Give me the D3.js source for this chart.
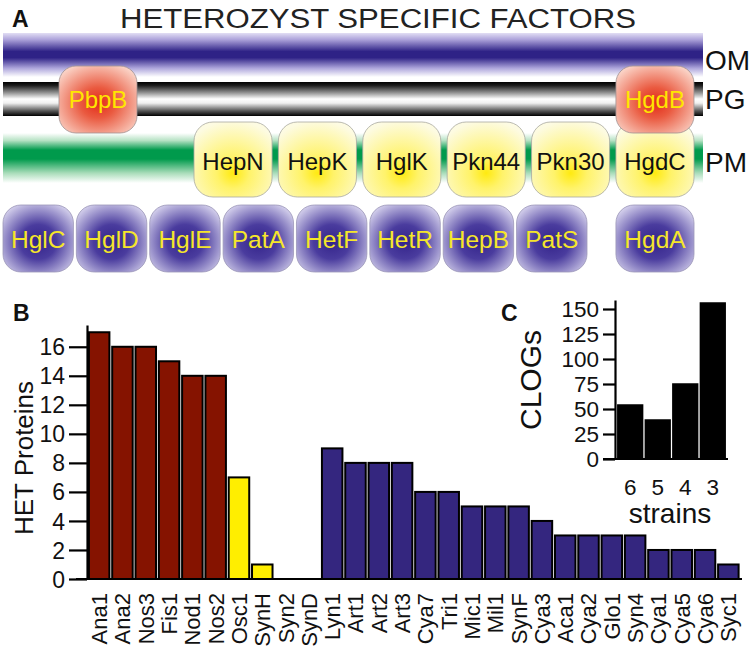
<!DOCTYPE html>
<html><head><meta charset="utf-8">
<script src="https://cdn.jsdelivr.net/npm/d3@7/dist/d3.min.js"></script>
<style>
html,body{margin:0;padding:0;background:#fff;}
svg{display:block;font-family:"Liberation Sans",Arial,Helvetica,sans-serif;}
</style></head>
<body>
<svg id="chart" width="756" height="652"></svg>
<script>
// ---------- DATA ----------
const titleText = "HETEROZYST SPECIFIC FACTORS";
const layerLabels = ["OM", "PG", "PM"];
const pgProteins = ["PbpB", "HgdB"];
const pmProteins = ["HepN", "HepK", "HglK", "Pkn44", "Pkn30", "HgdC"];
const cytoProteins = ["HglC", "HglD", "HglE", "PatA", "HetF", "HetR", "HepB", "PatS"];
const cytoRightProteins = ["HgdA"];

const strains = ["Ana1","Ana2","Nos3","Fis1","Nod1","Nos2","Osc1","SynH","Syn2","SynD",
  "Lyn1","Art1","Art2","Art3","Cya7","Tri1","Mic1","Mil1","SynF","Cya3","Aca1","Cya2",
  "Glo1","Syn4","Cya1","Cya5","Cya6","Syc1"];
const hetProteins = [17,16,16,15,14,14,7,1,0,0,9,8,8,8,6,6,5,5,5,4,3,3,3,3,2,2,2,1];
const strainGroup = ["h","h","h","h","h","h","y","y","y","y",
  "p","p","p","p","p","p","p","p","p","p","p","p","p","p","p","p","p","p"];
const hetTicks = [0,2,4,6,8,10,12,14,16];

const strainCounts = ["6","5","4","3"];
const clogs = [54, 39, 75, 156];
const clogTicks = [0,25,50,75,100,125,150];

// ---------- SETUP ----------
const svg = d3.select("#chart");
const defs = svg.append("defs");
const FONT = "Liberation Sans, Arial, sans-serif";

function linGrad(id, stops) {
  const g = defs.append("linearGradient").attr("id", id)
    .attr("x1", 0).attr("y1", 0).attr("x2", 0).attr("y2", 1);
  stops.forEach(s => g.append("stop").attr("offset", s[0]).attr("stop-color", s[1]));
}
function radGrad(id, cx, cy, r, stops) {
  const g = defs.append("radialGradient").attr("id", id)
    .attr("cx", cx).attr("cy", cy).attr("r", r);
  stops.forEach(s => g.append("stop").attr("offset", s[0]).attr("stop-color", s[1]));
}
linGrad("gOM", [[0,"#e2def4"],[0.15,"#aca2da"],[0.42,"#2e2286"],[0.56,"#2e2286"],[0.8,"#aea6dc"],[1,"#ffffff"]]);
linGrad("gPG", [[0,"#000"],[0.1,"#1c1c1c"],[0.3,"#8a8a8a"],[0.5,"#ffffff"],[0.62,"#f0f0f0"],[0.85,"#555"],[1,"#000"]]);
linGrad("gPM", [[0,"#ffffff"],[0.15,"#b6e2c4"],[0.34,"#009a4c"],[0.52,"#009a4c"],[0.8,"#a8dcb9"],[1,"#ffffff"]]);
radGrad("gRed", "50%", "55%", "65%", [[0,"#e22a18"],[0.35,"#ea5a40"],[1,"#fbd8cc"]]);
radGrad("gYel", "50%", "68%", "70%", [[0,"#ffea10"],[0.3,"#fff36a"],[1,"#fdfbe2"]]);
radGrad("gPur", "50%", "55%", "68%", [[0,"#33238a"],[0.38,"#4a3c9e"],[1,"#e4e1f5"]]);

// ---------- PANEL A ----------
svg.append("text").attr("x", 12).attr("y", 27).attr("font-family", FONT)
  .attr("font-weight", "bold").attr("font-size", 23).attr("fill", "#111").text("A");
svg.append("text").attr("x", 120).attr("y", 28).attr("font-size", 27).attr("fill", "#222")
  .attr("textLength", 516).attr("lengthAdjust", "spacingAndGlyphs").text(titleText);

// layer bands
const bandTop = d3.scaleOrdinal().domain(layerLabels).range([33, 82, 133]);
const bandH = d3.scaleOrdinal().domain(layerLabels).range([44, 34, 50]);
const bandFill = d3.scaleOrdinal().domain(layerLabels).range(["url(#gOM)", "url(#gPG)", "url(#gPM)"]);
svg.selectAll("rect.band").data(layerLabels).join("rect").attr("class", "band")
  .attr("x", 3).attr("width", 700)
  .attr("y", d => bandTop(d)).attr("height", d => bandH(d))
  .attr("fill", d => bandFill(d));
const labelY = d3.scaleOrdinal().domain(layerLabels).range([70, 109, 172]);
svg.selectAll("text.layer").data(layerLabels).join("text").attr("class", "layer")
  .attr("x", 705).attr("y", d => labelY(d)).attr("font-size", 28).attr("fill", "#111").text(d => d);

// PM proteins (yellow)
const pmX = d3.scaleBand().domain(pmProteins).range([194, 694]).paddingInner(0.075).paddingOuter(0);
const pmG = svg.selectAll("g.pm").data(pmProteins).join("g").attr("class", "pm")
  .attr("transform", d => `translate(${pmX(d)},122)`);
pmG.append("rect").attr("width", pmX.bandwidth()).attr("height", 75).attr("rx", 19)
  .attr("fill", "url(#gYel)").attr("stroke", "#a8a8a0").attr("stroke-width", 0.8);
pmG.append("text").attr("x", pmX.bandwidth() / 2).attr("y", 48).attr("text-anchor", "middle")
  .attr("font-size", 24).attr("fill", "#111").text(d => d);

// PG proteins (red)
const pgX = d3.scaleOrdinal().domain(pgProteins).range([59, pmX("HgdC")]);
const pgG = svg.selectAll("g.pg").data(pgProteins).join("g").attr("class", "pg")
  .attr("transform", d => `translate(${pgX(d)},66)`);
pgG.append("rect").attr("width", 78).attr("height", 67).attr("rx", 17)
  .attr("fill", "url(#gRed)").attr("stroke", "#a09090").attr("stroke-width", 0.8);
pgG.append("text").attr("x", 39).attr("y", 42).attr("text-anchor", "middle")
  .attr("font-size", 24).attr("fill", "#ffe600").text(d => d);

// cytoplasmic proteins (purple)
const cyX = d3.scaleBand().domain(cytoProteins).range([3, 587]).paddingInner(0.04).paddingOuter(0);
const cyAll = cytoProteins.concat(cytoRightProteins);
const cyPos = d => cytoRightProteins.includes(d) ? pmX("HgdC") : cyX(d);
const cyW = d => cytoRightProteins.includes(d) ? pmX.bandwidth() : cyX.bandwidth();
const cyG = svg.selectAll("g.cy").data(cyAll).join("g").attr("class", "cy")
  .attr("transform", d => `translate(${cyPos(d)},205)`);
cyG.append("rect").attr("width", d => cyW(d)).attr("height", 67).attr("rx", 18)
  .attr("fill", "url(#gPur)").attr("stroke", "#9a96b8").attr("stroke-width", 0.8);
cyG.append("text").attr("x", d => cyW(d) / 2).attr("y", 43).attr("text-anchor", "middle")
  .attr("font-size", 24.5).attr("fill", "#f5e62a").text(d => d);

// ---------- PANEL B ----------
svg.append("text").attr("x", 13).attr("y", 321).attr("font-family", FONT)
  .attr("font-weight", "bold").attr("font-size", 23).attr("fill", "#111").text("B");

const x = d3.scaleBand().domain(strains).range([87.5, 740]).paddingInner(0.12).paddingOuter(0.06);
const y = d3.scaleLinear().domain([0, 17.5]).range([579, 325]);
const colorB = d3.scaleOrdinal().domain(["h", "y", "p"]).range(["#851300", "#ffee00", "#34267f"]);

svg.selectAll("rect.bar").data(strains).join("rect").attr("class", "bar")
  .attr("x", d => x(d)).attr("width", x.bandwidth())
  .attr("y", (d, i) => y(hetProteins[i])).attr("height", (d, i) => y(0) - y(hetProteins[i]))
  .attr("fill", (d, i) => colorB(strainGroup[i]))
  .attr("stroke", "#000").attr("stroke-width", 2)
  .attr("display", (d, i) => hetProteins[i] > 0 ? null : "none");

const yAxis = svg.append("g").attr("transform", "translate(87,0)")
  .call(d3.axisLeft(y).tickValues(hetTicks).tickSize(18).tickPadding(4).tickSizeOuter(0));
yAxis.select(".domain").attr("stroke", "#000").attr("stroke-width", 2.2);
yAxis.selectAll(".tick line").attr("stroke", "#000").attr("stroke-width", 2.2);
yAxis.selectAll(".tick text").attr("font-size", 23).attr("font-family", FONT).attr("fill", "#111").attr("dy", "0.35em");

const xAxis = svg.append("g").attr("transform", "translate(0,579)")
  .call(d3.axisBottom(x).tickSize(0).tickPadding(0));
xAxis.select(".domain").remove();
svg.append("line").attr("x1", 76).attr("x2", 742).attr("y1", 579).attr("y2", 579)
  .attr("stroke", "#000").attr("stroke-width", 2.2);
xAxis.selectAll(".tick text").attr("font-size", 22).attr("font-family", FONT).attr("fill", "#111")
  .attr("text-anchor", "end").attr("transform", "rotate(-90)")
  .attr("x", -14).attr("y", 0).attr("dy", "0.36em");

svg.append("text").attr("transform", "translate(33,458) rotate(-90)").attr("text-anchor", "middle")
  .attr("font-size", 26).attr("fill", "#111").text("HET Proteins");

// ---------- PANEL C (inset) ----------
svg.append("text").attr("x", 501).attr("y", 321).attr("font-family", FONT)
  .attr("font-weight", "bold").attr("font-size", 23).attr("fill", "#111").text("C");

const xc = d3.scaleBand().domain(strainCounts).range([617, 726]).paddingInner(0.1).paddingOuter(0.03);
const yc = d3.scaleLinear().domain([0, 159]).range([459, 300]);

svg.selectAll("rect.cbar").data(strainCounts).join("rect").attr("class", "cbar")
  .attr("x", d => xc(d)).attr("width", xc.bandwidth())
  .attr("y", (d, i) => yc(clogs[i])).attr("height", (d, i) => yc(0) - yc(clogs[i]))
  .attr("fill", "#000").attr("stroke", "#000").attr("stroke-width", 1.5);

const ycAxis = svg.append("g").attr("transform", "translate(615,0)")
  .call(d3.axisLeft(yc).tickValues(clogTicks).tickSize(12).tickPadding(4).tickSizeOuter(0));
ycAxis.select(".domain").attr("stroke", "#000").attr("stroke-width", 2.2);
ycAxis.selectAll(".tick line").attr("stroke", "#000").attr("stroke-width", 2.2);
ycAxis.selectAll(".tick text").attr("font-size", 22.5).attr("font-family", FONT).attr("fill", "#111").attr("dy", "0.35em");

svg.append("line").attr("x1", 603).attr("x2", 728).attr("y1", 459).attr("y2", 459)
  .attr("stroke", "#000").attr("stroke-width", 2.2);
const xcAxis = svg.append("g").attr("transform", "translate(0,459)")
  .call(d3.axisBottom(xc).tickSize(0).tickPadding(0));
xcAxis.select(".domain").remove();
xcAxis.selectAll(".tick text").attr("font-size", 22.5).attr("font-family", FONT).attr("fill", "#111")
  .attr("y", 36).attr("dy", 0);

svg.append("text").attr("x", 670).attr("y", 523).attr("text-anchor", "middle")
  .attr("font-size", 28).attr("fill", "#111").text("strains");
svg.append("text").attr("transform", "translate(541,380) rotate(-90)").attr("text-anchor", "middle")
  .attr("font-size", 30).attr("fill", "#111").text("CLOGs");
</script>
</body></html>
